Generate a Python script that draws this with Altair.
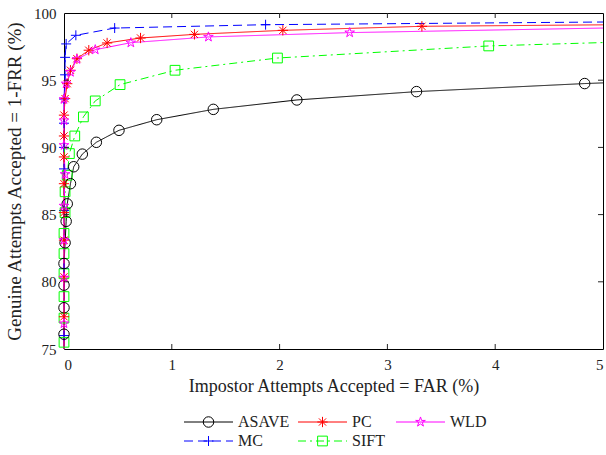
import math

import altair as alt
import pandas as pd

# ---- series data: FAR (%) and GAR = 1-FRR (%) at the marked operating points
series = ["ASAVE", "PC", "WLD", "MC", "SIFT"]
colors = ["#000000", "#ff0000", "#ff00ff", "#0000ff", "#00ff00"]

asave_far = [0.0, 0.0, 0.0, 0.0, 0.01, 0.02, 0.03, 0.06, 0.09, 0.17, 0.30, 0.51, 0.86, 1.385, 2.16, 3.27, 4.83]
asave_gar = [76.1, 78.07, 79.75, 81.36, 82.9, 84.5, 85.8, 87.3, 88.56, 89.5, 90.38, 91.27, 92.06, 92.83, 93.53, 94.15, 94.75]
asave_end = 94.8

pc_far = [0.0, 0.0, 0.0, 0.0, 0.0, 0.0, 0.0, 0.0, 0.01, 0.03, 0.06, 0.12, 0.23, 0.40, 0.71, 1.21, 2.03, 3.32]
pc_gar = [77.4, 80.37, 83.1, 85.15, 87.3, 89.29, 90.85, 92.4, 93.63, 94.74, 95.74, 96.6, 97.23, 97.77, 98.14, 98.41, 98.71, 99.01]
pc_end = 99.12

wld_far = [0.0, 0.0, 0.0, 0.0, 0.01, 0.0, 0.0, 0.0, 0.02, 0.06, 0.12, 0.29, 0.62, 1.34, 2.65]
wld_gar = [76.9, 80.3, 83.1, 85.65, 88.0, 90.16, 92.0, 93.58, 94.74, 95.6, 96.56, 97.27, 97.79, 98.22, 98.54]
wld_end = 98.88

mc_far = [0.0, 0.0, 0.0, 0.0, 0.0, 0.0, 0.0, 0.01, 0.01, 0.02, 0.11, 0.47, 1.87]
mc_gar = [76.0, 81.0, 85.3, 88.4, 90.0, 91.8, 93.6, 95.4, 96.7, 97.7, 98.34, 98.88, 99.13]
mc_end = 99.33

sift_far = [0.0, 0.0, 0.0, 0.0, 0.0, 0.0, 0.01, 0.01, 0.03, 0.05, 0.10, 0.18, 0.29, 0.52, 1.03, 1.98, 3.94]
sift_gar = [75.5, 77.3, 78.9, 80.6, 82.1, 83.6, 85.15, 86.7, 87.93, 89.54, 90.85, 92.27, 93.46, 94.67, 95.74, 96.65, 97.55]
sift_end = 97.8

x_ticks = [0, 1, 2, 3, 4, 5]
y_ticks = [75, 80, 85, 90, 95, 100]

# ---- styles
FONT = "'Liberation Serif', 'DejaVu Serif', serif"
TXT = "#222222"
TICK = "#262626"
W, H = 539, 336
TICK_LEN = 5

def star_path(n=5, inner=0.38):
    pts = []
    for k in range(2 * n):
        a = -math.pi / 2 + k * math.pi / n
        r = 1.0 if k % 2 == 0 else inner
        pts.append(f"{r * math.cos(a):.3f},{r * math.sin(a):.3f}")
    return "M" + "L".join(pts) + "Z"

asterisk = "M-1,0L1,0M0,-1L0,1M-0.7,-0.7L0.7,0.7M-0.7,0.7L0.7,-0.7"
plus = "M-1,0L1,0M0,-1L0,1"
shapes = ["circle", asterisk, star_path(), plus, "square"]
sizes = [110, 95, 150, 100, 64]
dashes = [[1, 0], [1, 0], [1, 0], [9, 5], [8, 4, 2, 4]]

color_scale = alt.Scale(domain=series, range=colors)
shape_scale = alt.Scale(domain=series, range=shapes)
size_scale = alt.Scale(domain=series, range=sizes)
dash_scale = alt.Scale(domain=series, range=dashes)

# ---- tables (drawing order: MC, SIFT, ASAVE, PC, WLD)
table = {
    "ASAVE": (asave_far, asave_gar, asave_end),
    "PC": (pc_far, pc_gar, pc_end),
    "WLD": (wld_far, wld_gar, wld_end),
    "MC": (mc_far, mc_gar, mc_end),
    "SIFT": (sift_far, sift_gar, sift_end),
}
draw_order = ["MC", "SIFT", "ASAVE", "PC", "WLD"]

line_rows, point_rows = [], []
for name in draw_order:
    far, gar, end = table[name]
    xs = [0.0] + far + [5.0]
    ys = [75.0] + gar + [end]
    for i, (x, y) in enumerate(zip(xs, ys)):
        line_rows.append({"series": name, "far": x, "gar": y, "idx": i})
    for x, y in zip(far, gar):
        point_rows.append({"series": name, "far": x, "gar": y})

lines_df = pd.DataFrame(line_rows)
points_df = pd.DataFrame(point_rows)

xs = alt.Scale(domain=[0, 5], nice=False, zero=False)
ys = alt.Scale(domain=[75, 100], nice=False, zero=False)

x_axis = alt.Axis(
    orient="bottom", values=x_ticks, format="d", ticks=False, domain=False,
    grid=False, labelPadding=8, title="Impostor Attempts Accepted = FAR (%)",
    titlePadding=5, titleFontSize=18)
y_axis = alt.Axis(
    orient="left", values=y_ticks, format="d", ticks=False, domain=False,
    grid=False, labelPadding=8, title="Genuine Attempts Accepted = 1-FRR (%)",
    titlePadding=9, titleFontSize=19)

lines = alt.Chart(lines_df).mark_line(strokeWidth=1, clip=False).encode(
    x=alt.X("far:Q", scale=xs, axis=x_axis),
    y=alt.Y("gar:Q", scale=ys, axis=y_axis),
    color=alt.Color("series:N", scale=color_scale, legend=None),
    strokeDash=alt.StrokeDash("series:N", scale=dash_scale, legend=None),
    detail="series:N",
    order=alt.Order("idx:Q"),
)

points = alt.Chart(points_df).mark_point(filled=False, strokeWidth=1, opacity=1, clip=False).encode(
    x=alt.X("far:Q", scale=xs, axis=x_axis),
    y=alt.Y("gar:Q", scale=ys, axis=y_axis),
    color=alt.Color("series:N", scale=color_scale, legend=None),
    shape=alt.Shape("series:N", scale=shape_scale, legend=None),
    size=alt.Size("series:N", scale=size_scale, legend=None),
)

# inward tick marks on all four sides of the box
xt_df = pd.DataFrame({"far": x_ticks[1:-1]})
yt_df = pd.DataFrame({"gar": y_ticks[1:-1]})
tick_style = dict(color=TICK, strokeWidth=1)
tx = alt.X("far:Q", scale=xs, axis=x_axis)
ty = alt.Y("gar:Q", scale=ys, axis=y_axis)
ticks_bottom = alt.Chart(xt_df).mark_rule(**tick_style).encode(
    x=tx, y=alt.value(H), y2=alt.value(H - TICK_LEN))
ticks_top = alt.Chart(xt_df).mark_rule(**tick_style).encode(
    x=tx, y=alt.value(0), y2=alt.value(TICK_LEN))
ticks_left = alt.Chart(yt_df).mark_rule(**tick_style).encode(
    y=ty, x=alt.value(0), x2=alt.value(TICK_LEN))
ticks_right = alt.Chart(yt_df).mark_rule(**tick_style).encode(
    y=ty, x=alt.value(W), x2=alt.value(W - TICK_LEN))

main = alt.layer(
    lines, points, ticks_bottom, ticks_top, ticks_left, ticks_right
).properties(width=W, height=H, view=alt.ViewBackground(stroke="#000000", strokeWidth=1))

# ---- legend: three columns, two rows
col_start = [120, 234, 332]
seg_len = 49
row_gap = 19
LH = 40
leg_rows = []
for i, name in enumerate(series):
    c, r = i % 3, i // 3
    x0 = col_start[c]
    leg_rows.append({"series": name, "x0": x0, "x1": x0 + seg_len,
                     "xm": x0 + seg_len / 2, "xt": x0 + seg_len + 5,
                     "yy": 10 + r * row_gap})
leg_df = pd.DataFrame(leg_rows)
lx = alt.Scale(domain=[0, W], nice=False, zero=False)
ly = alt.Scale(domain=[0, LH], nice=False, zero=False, reverse=True)

leg_base = alt.Chart(leg_df)
leg_lines = leg_base.mark_rule(strokeWidth=1).encode(
    x=alt.X("x0:Q", scale=lx, axis=None), x2="x1:Q",
    y=alt.Y("yy:Q", scale=ly, axis=None),
    color=alt.Color("series:N", scale=color_scale, legend=None),
    strokeDash=alt.StrokeDash("series:N", scale=dash_scale, legend=None),
)
leg_marks = leg_base.mark_point(filled=False, strokeWidth=1, opacity=1).encode(
    x=alt.X("xm:Q", scale=lx, axis=None),
    y=alt.Y("yy:Q", scale=ly, axis=None),
    color=alt.Color("series:N", scale=color_scale, legend=None),
    shape=alt.Shape("series:N", scale=shape_scale, legend=None),
    size=alt.Size("series:N", scale=size_scale, legend=None),
)
leg_text = leg_base.mark_text(align="left", baseline="middle", font=FONT,
                              fontSize=16, color=TXT).encode(
    x=alt.X("xt:Q", scale=lx, axis=None),
    y=alt.Y("yy:Q", scale=ly, axis=None),
    text="series:N",
)
legend = alt.layer(leg_lines, leg_marks, leg_text).properties(width=W, height=LH)

chart = alt.vconcat(main, legend, spacing=15).properties(
    padding={"left": 5, "top": 5, "right": 0, "bottom": 0}
).configure(font=FONT).configure_view(stroke="transparent").configure_axis(
    labelFont=FONT, titleFont=FONT, labelFontSize=15, labelColor=TXT,
    titleColor=TXT, titleFontWeight="normal"
)

chart.save("out.html", embed_options={"renderer": "svg", "actions": False})
